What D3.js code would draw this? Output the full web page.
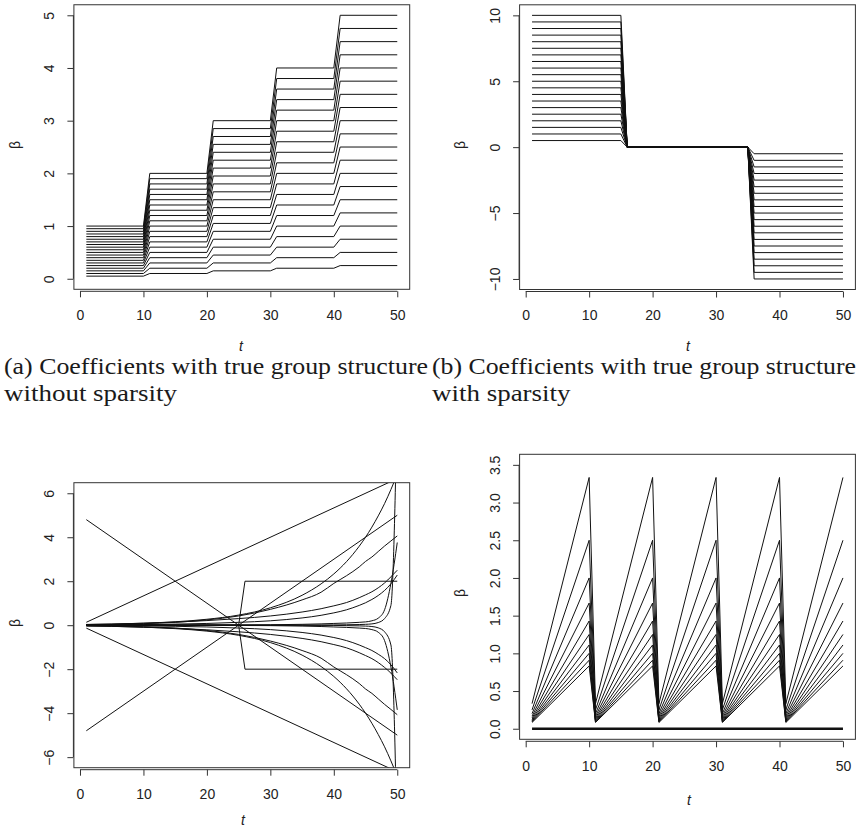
<!DOCTYPE html>
<html>
<head>
<meta charset="utf-8">
<script src="https://cdn.jsdelivr.net/npm/d3@7"></script>
<style>
  html, body { margin: 0; padding: 0; background: #fff; }
  svg { display: block; }
  .tick text { font-family: "Liberation Sans", Arial, sans-serif; font-size: 14px; fill: #222; }
  .axis-title { font-family: "Liberation Sans", Arial, sans-serif; font-size: 14px; fill: #222; }
  .caption { font-family: "Liberation Serif", "DejaVu Serif", serif; font-size: 24px; fill: #1a1a1a; }
</style>
</head>
<body>
<svg id="fig" width="856" height="831"></svg>
<script>
// ---------- shared axis values ----------
const tTicks = [0, 10, 20, 30, 40, 50];

// ---------- (a) grouped coefficients, no sparsity ----------
const aBreaks  = [1, 10, 11, 20, 21, 30, 31, 40, 41, 50];
const aLevels1 = [0.05,0.10,0.15,0.20,0.25,0.30,0.35,0.40,0.45,0.50,0.55,0.60,0.65,0.70,0.75,0.80,0.85,0.90,0.95,1.00];
const aLevels2 = [0.1,0.2,0.3,0.4,0.5,0.6,0.7,0.8,0.9,1.0,1.1,1.2,1.3,1.4,1.5,1.6,1.7,1.8,1.9,2.0];
const aLevels3 = [0.15,0.30,0.45,0.60,0.75,0.90,1.05,1.20,1.35,1.50,1.65,1.80,1.95,2.10,2.25,2.40,2.55,2.70,2.85,3.00];
const aLevels4 = [0.2,0.4,0.6,0.8,1.0,1.2,1.4,1.6,1.8,2.0,2.2,2.4,2.6,2.8,3.0,3.2,3.4,3.6,3.8,4.0];
const aLevels5 = [0.25,0.50,0.75,1.00,1.25,1.50,1.75,2.00,2.25,2.50,2.75,3.00,3.25,3.50,3.75,4.00,4.25,4.50,4.75,5.00];
const aYTicks  = [0, 1, 2, 3, 4, 5];

// ---------- (b) grouped coefficients with sparsity ----------
const bBreaks = [1, 15, 16, 35, 36, 50];
const bTop    = [0.5,1.0,1.5,2.0,2.5,3.0,3.5,4.0,4.5,5.0,5.5,6.0,6.5,7.0,7.5,8.0,8.5,9.0,9.5,10.0];
const bMiddle = 0;
const bBottom = [-0.5,-1.0,-1.5,-2.0,-2.5,-3.0,-3.5,-4.0,-4.5,-5.0,-5.5,-6.0,-6.5,-7.0,-7.5,-8.0,-8.5,-9.0,-9.5,-10.0];
const bYTicks = [-10, -5, 0, 5, 10];

// ---------- (c) smooth / linear / step coefficients ----------
const cLineUp      = { t: [1, 50], v: [0.133, 6.667] };
const cLineDown    = { t: [1, 50], v: [-0.133, -6.667] };
const cCrossDown   = { t: [1, 50], v: [4.8, -5.0] };
const cCrossUp     = { t: [1, 50], v: [-4.8, 5.0] };
const cStepUp      = { t: [1, 25, 26, 50], v: [0, 0, 2, 2] };
const cStepDown    = { t: [1, 25, 26, 50], v: [0, 0, -2, -2] };
const cCurveT      = [1, 5, 10, 15, 20, 25, 30, 35, 38, 40, 42, 44, 45, 46, 47, 48, 49, 50];
const cGrowPos1    = [0.035,0.053,0.091,0.156,0.27,0.46,0.79,1.36,1.88,2.33,2.89,3.59,4.0,4.46,4.97,5.53,6.17,6.87];
const cGrowPos2    = [0.02,0.03,0.07,0.13,0.24,0.42,0.72,1.15,1.5,1.9,2.25,2.65,2.9,3.1,3.35,3.6,3.83,4.06];
const cGrowPos3    = [0.03,0.05,0.09,0.14,0.21,0.30,0.42,0.60,0.75,0.88,1.03,1.25,1.38,1.52,1.70,1.92,2.20,2.50];
const cGrowPos4    = [0.01,0.015,0.03,0.05,0.08,0.13,0.20,0.33,0.45,0.56,0.70,0.90,1.02,1.17,1.35,1.58,1.88,2.28];
const cSharpPos1   = [0.005,0.005,0.006,0.008,0.01,0.012,0.02,0.04,0.06,0.08,0.10,0.13,0.15,0.20,0.32,0.70,1.90,3.76];
const cSharpPos2   = [0.0,0.0,0.0,0.001,0.002,0.003,0.004,0.006,0.008,0.01,0.02,0.03,0.04,0.06,0.12,0.30,0.90,10.0];
const cGrowNeg1    = [-0.035,-0.053,-0.091,-0.156,-0.27,-0.46,-0.79,-1.36,-1.88,-2.33,-2.89,-3.59,-4.0,-4.46,-4.97,-5.53,-6.17,-6.87];
const cGrowNeg2    = [-0.02,-0.03,-0.07,-0.13,-0.24,-0.42,-0.72,-1.15,-1.5,-1.9,-2.25,-2.65,-2.9,-3.1,-3.35,-3.6,-3.83,-4.07];
const cGrowNeg3    = [-0.03,-0.05,-0.09,-0.14,-0.21,-0.30,-0.42,-0.60,-0.75,-0.88,-1.03,-1.25,-1.38,-1.52,-1.70,-1.92,-2.18,-2.48];
const cGrowNeg4    = [-0.01,-0.015,-0.03,-0.05,-0.08,-0.13,-0.20,-0.33,-0.45,-0.56,-0.70,-0.90,-1.02,-1.15,-1.32,-1.52,-1.80,-2.17];
const cSharpNeg1   = [-0.005,-0.005,-0.006,-0.008,-0.01,-0.012,-0.02,-0.04,-0.06,-0.08,-0.10,-0.13,-0.15,-0.20,-0.32,-0.70,-1.90,-3.85];
const cSharpNeg2   = [0.0,0.0,0.0,-0.001,-0.002,-0.003,-0.004,-0.006,-0.008,-0.01,-0.02,-0.03,-0.04,-0.06,-0.12,-0.30,-0.90,-10.0];
const cYTicks = [-6, -4, -2, 0, 2, 4, 6];

// ---------- (d) periodic sawtooth coefficients ----------
const dBreaks = [1, 10, 11, 20, 21, 30, 31, 40, 41, 50];
const dLow    = [0.333, 0.25, 0.2, 0.167, 0.143, 0.125, 0.111, 0.1, 0.091, 0.083];
const dPeak   = [3.333, 2.5, 2.0, 1.667, 1.429, 1.25, 1.111, 1.0, 0.909, 0.833];
const dZero   = { t: [1, 50], v: [0, 0] };
const dYTicks = [0, 0.5, 1, 1.5, 2, 2.5, 3, 3.5];

// ---------- layout ----------
const svg = d3.select("#fig");
const fmtMinus = s => String(s).replace("-", "\u2212");

function makePanel(o) {
  const x = d3.scaleLinear().domain(o.xDomain).range([o.left, o.right]);
  const y = d3.scaleLinear().domain(o.yDomain).range([o.bottom, o.top]);
  const g = svg.append("g");

  const clipId = "clip-" + o.id;
  svg.append("clipPath").attr("id", clipId)
    .append("rect")
    .attr("x", o.left).attr("y", o.top)
    .attr("width", o.right - o.left).attr("height", o.bottom - o.top);

  const lines = g.append("g").attr("clip-path", `url(#${clipId})`);

  // x axis (R style: axis line from first to last tick)
  const xAxisY = o.bottom + 2;
  const xa = g.append("g")
    .attr("transform", `translate(0,${xAxisY})`)
    .call(d3.axisBottom(x).tickValues(tTicks).tickSize(6).tickSizeOuter(0).tickFormat(d3.format("d")));
  xa.select(".domain").attr("d", `M${x(tTicks[0])},0H${x(tTicks[tTicks.length - 1])}`);
  xa.selectAll("line, path").attr("stroke", "#333");
  xa.selectAll("text").attr("y", o.xLabelY - xAxisY).attr("dy", "0.35em");

  // y axis with labels parallel to the axis
  const yAxisX = o.left - 0.5;
  const ya = g.append("g")
    .attr("transform", `translate(${yAxisX},0)`)
    .call(d3.axisLeft(y).tickValues(o.yTicks).tickSize(6).tickSizeOuter(0).tickFormat(o.yFormat));
  ya.select(".domain").attr("d", `M0,${y(o.yTicks[0])}V${y(o.yTicks[o.yTicks.length - 1])}`);
  ya.selectAll("line, path").attr("stroke", "#333");
  ya.selectAll("text")
    .attr("x", null).attr("y", null).attr("dy", "0.35em")
    .attr("text-anchor", "middle")
    .attr("transform", `translate(${o.yLabelX - yAxisX},0) rotate(-90)`);

  // plot box
  g.append("rect")
    .attr("x", o.left).attr("y", o.top)
    .attr("width", o.right - o.left).attr("height", o.bottom - o.top)
    .attr("fill", "none").attr("stroke", "#333").attr("stroke-width", 1);

  // axis titles
  g.append("text").attr("class", "axis-title")
    .attr("x", o.tTitle[0]).attr("y", o.tTitle[1])
    .attr("text-anchor", "middle").attr("dy", "0.35em")
    .attr("font-style", "italic").text("t");
  g.append("text").attr("class", "axis-title")
    .attr("transform", `translate(${o.bTitle[0]},${o.bTitle[1]}) rotate(-90)`)
    .attr("text-anchor", "middle").attr("dy", "0.35em")
    .text("\u03B2");

  return { x, y, lines };
}

function drawSeries(p, ts, vs, opts = {}) {
  const pts = ts.map((t, i) => [t, vs[i]]);
  const gen = d3.line().x(d => p.x(d[0])).y(d => p.y(d[1]))
    .curve(opts.smooth ? d3.curveMonotoneX : d3.curveLinear);
  p.lines.append("path")
    .attr("d", gen(pts))
    .attr("fill", "none")
    .attr("stroke", opts.color || "#111")
    .attr("stroke-width", opts.width || 1)
    .attr("stroke-linejoin", "round");
}

const xDom = [-0.96, 51.96];
const leftCol  = { left: 73.9,  right: 409.7 };
const rightCol = { left: 519.6, right: 855.4 };

// ---------- panel (a) ----------
const pa = makePanel({
  id: "a", xDomain: xDom, yDomain: [-0.2, 5.2], ...leftCol, top: 4.75, bottom: 289.3,
  yTicks: aYTicks, yFormat: d3.format("d"), xLabelY: 315, yLabelX: 49.3,
  tTitle: [241, 346], bTitle: [15, 145]
});
aLevels1.forEach((_, k) => {
  const v = [aLevels1[k], aLevels1[k], aLevels2[k], aLevels2[k], aLevels3[k], aLevels3[k],
             aLevels4[k], aLevels4[k], aLevels5[k], aLevels5[k]];
  drawSeries(pa, aBreaks, v);
});

// ---------- panel (b) ----------
const pb = makePanel({
  id: "b", xDomain: xDom, yDomain: [-10.8, 10.8], ...rightCol, top: 4.8, bottom: 289.5,
  yTicks: bYTicks, yFormat: d => fmtMinus(d), xLabelY: 315, yLabelX: 494.7,
  tTitle: [688, 346], bTitle: [460, 145]
});
bTop.forEach((_, k) => {
  const v = [bTop[k], bTop[k], bMiddle, bMiddle, bBottom[k], bBottom[k]];
  drawSeries(pb, bBreaks, v);
});

// ---------- panel (c) ----------
const pc = makePanel({
  id: "c", xDomain: xDom, yDomain: [-6.48, 6.48], ...leftCol, top: 482.7, bottom: 767.7,
  yTicks: cYTicks, yFormat: d => fmtMinus(d), xLabelY: 794, yLabelX: 49.3,
  tTitle: [243, 820], bTitle: [15, 623]
});
[cGrowPos1, cGrowPos2, cGrowPos3, cGrowPos4, cSharpPos1, cSharpPos2,
 cGrowNeg1, cGrowNeg2, cGrowNeg3, cGrowNeg4, cSharpNeg1, cSharpNeg2]
  .forEach(v => drawSeries(pc, cCurveT, v, { smooth: true }));
[cLineUp, cLineDown, cCrossDown, cCrossUp, cStepUp, cStepDown]
  .forEach(s => drawSeries(pc, s.t, s.v));

// ---------- panel (d) ----------
const pd = makePanel({
  id: "d", xDomain: xDom, yDomain: [-0.14, 3.64], ...rightCol, top: 454.3, bottom: 739.3,
  yTicks: dYTicks, yFormat: d3.format(".1f"), xLabelY: 765.7, yLabelX: 494.7,
  tTitle: [689, 800], bTitle: [460, 593]
});
dLow.forEach((_, k) => {
  const v = dBreaks.map((_, i) => (i % 2 === 0 ? dLow[k] : dPeak[k]));
  drawSeries(pd, dBreaks, v);
});
drawSeries(pd, dZero.t, dZero.v, { width: 2.4 });

// ---------- captions ----------
// First lines are fitted to the column width; the second lines share one
// horizontal stretch so both keep the same letter proportions.
const captionRows = [
  { x: 4,   y: 374, text: "(a) Coefficients with true group structure" },
  { x: 432, y: 374, text: "(b) Coefficients with true group structure" },
  { x: 4,   y: 401, text: "without sparsity" },
  { x: 432, y: 401, text: "with sparsity" }
];
const capNodes = captionRows.map(c =>
  svg.append("text").attr("class", "caption").attr("x", c.x).attr("y", c.y).text(c.text));
const firstLineWidth = 424;
capNodes.slice(0, 2).forEach(n =>
  n.attr("textLength", firstLineWidth).attr("lengthAdjust", "spacingAndGlyphs"));
const secondStretch = 173 / capNodes[2].node().getComputedTextLength();
capNodes.slice(2).forEach(n => {
  const w = n.node().getComputedTextLength();
  n.attr("textLength", w * secondStretch).attr("lengthAdjust", "spacingAndGlyphs");
});
</script>
</body>
</html>
